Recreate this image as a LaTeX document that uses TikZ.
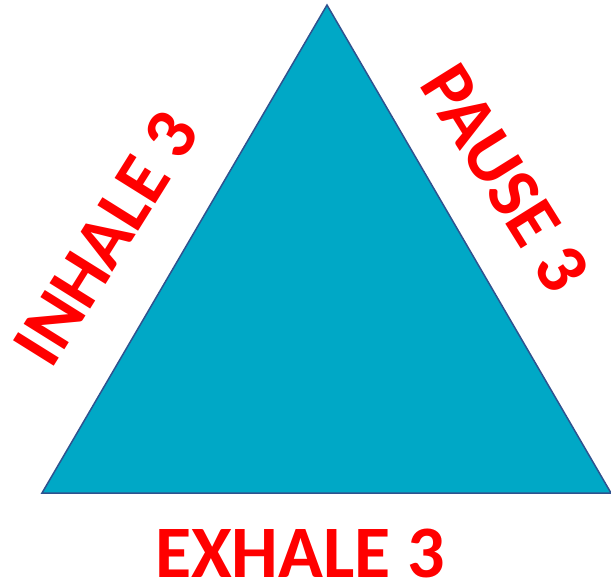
\documentclass[tikz,border=0pt]{standalone}
\usepackage{fontspec}
\setmainfont{Carlito}
\definecolor{tealfill}{RGB}{0,168,198}
\definecolor{edgeblue}{RGB}{47,82,143}
\definecolor{labelred}{RGB}{255,0,0}
\begin{document}
\begin{tikzpicture}[x=1pt,y=-1pt,
  lbl/.style={text=labelred,font=\bfseries\fontsize{74}{74}\selectfont,inner sep=0pt,anchor=center}]
\useasboundingbox (0,0) rectangle (611,584);
\coordinate (top) at (327,5);
\coordinate (bl) at (42,493);
\coordinate (br) at (611,493);
\draw[draw=edgeblue,line width=1.5pt,fill=tealfill,line join=miter] (top) -- (br) -- (bl) -- cycle;
\node[lbl] (exhale) at (300,553) {EXHALE 3};
\node[lbl,rotate=58] (inhale) at (106,238) {INHALE 3};
\node[lbl,rotate=-58] (pause) at (505,178) {PAUSE 3};
\end{tikzpicture}
\end{document}
